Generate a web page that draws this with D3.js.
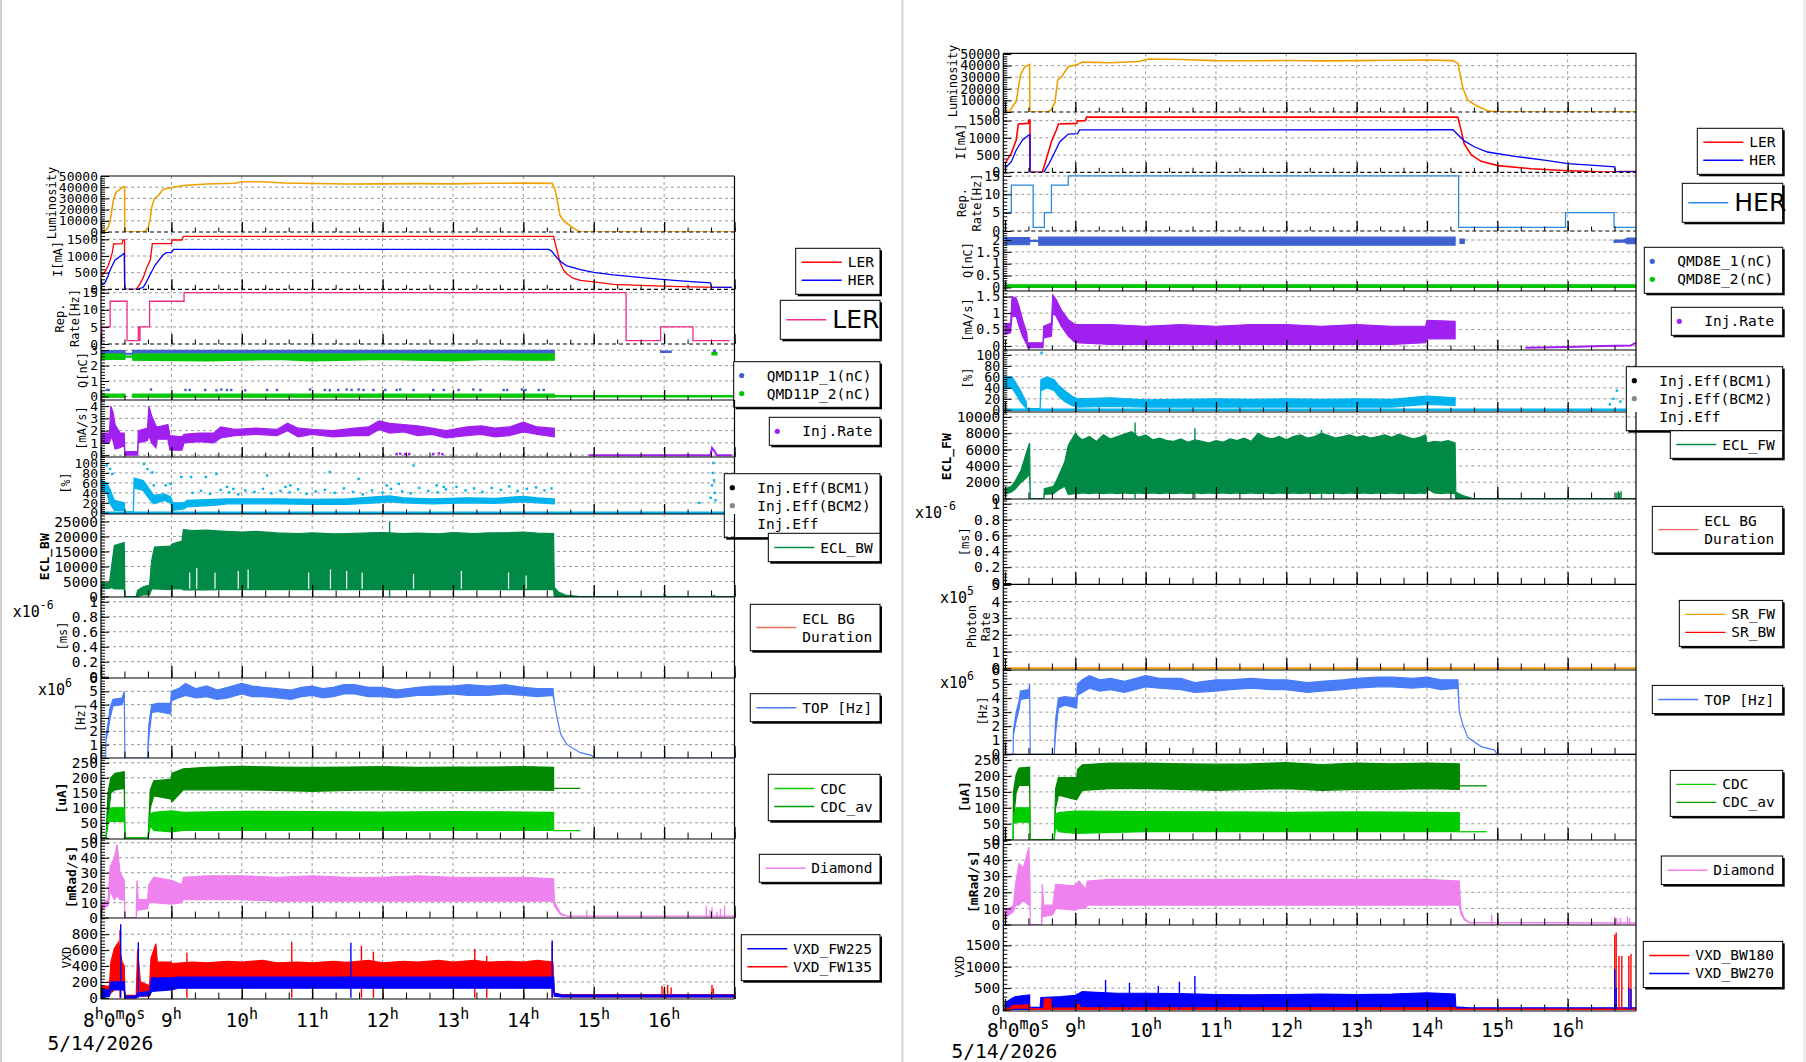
<!DOCTYPE html>
<html><head><meta charset="utf-8">
<script src="https://cdn.jsdelivr.net/npm/d3@7"></script>
<style>
body{margin:0;background:#fff}
svg{display:block}
text{font-family:"DejaVu Sans Mono",monospace;fill:#000}
</style></head>
<body><svg id="c" width="1806" height="1062"></svg>
<script>
// ===================== DATA (time in hours, 8.0 = 8:00) =====================
const hourLabels = ["8","9","10","11","12","13","14","15","16"];
const dateLabel = "5/14/2026";

// ---- tick label values ----
const lumTicks = [0,10000,20000,30000,40000,50000];
const curTicks = [0,500,1000,1500];
const repTicks = [0,5,10,15];
const qTicksL = [0,1,2,3];
const qTicksR = [0,0.5,1,1.5,2];
const injTicksL = [0,1,2,3,4];
const injTicksR = [0,0.5,1,1.5];
const effTicks = [0,20,40,60,80,100];
const eclBwTicks = [0,5000,10000,15000,20000,25000];
const eclFwTicks = [0,2000,4000,6000,8000,10000];
const durTicks = [0,0.2,0.4,0.6,0.8,1];
const photonTicks = [0,1,2,3,4,5];
const topTicks = [0,1,2,3,4,5,6];
const cdcTicks = [0,50,100,150,200,250];
const diaTicks = [0,10,20,30,40,50];
const vxdTicksL = [0,200,400,600,800];
const vxdTicksR = [0,500,1000,1500];

// ---- LEFT (LER) ----
const lumL = [[8.0,0],[8.05,600],[8.1,4000],[8.13,10000],[8.16,22000],[8.18,30000],[8.22,36000],[8.28,38500],[8.32,40500],[8.335,40500],[8.337,0],[8.58,0],[8.63,800],[8.67,4000],[8.70,12000],[8.72,22000],[8.76,30000],[8.82,33000],[8.88,38000],[8.95,39000],[9.0,39500],[9.17,41500],[9.5,42800],[9.9,43500],[10.0,44900],[10.3,44800],[10.6,43800],[11.0,43300],[11.5,42900],[12.0,43000],[12.5,43200],[13.0,43000],[13.5,43500],[14.0,43600],[14.41,43400],[14.45,38000],[14.48,29000],[14.52,15000],[14.57,10000],[14.62,7800],[14.72,3000],[14.81,0],[17.0,0]];
const lerL = [[8.0,380],[8.05,500],[8.1,700],[8.13,880],[8.16,1100],[8.18,1360],[8.30,1370],[8.31,1480],[8.335,1480],[8.337,0],[8.50,0],[8.55,150],[8.6,350],[8.65,650],[8.7,880],[8.73,1370],[9.0,1370],[9.01,1480],[9.15,1480],[9.17,1590],[14.43,1590],[14.45,1400],[14.477,1180],[14.525,780],[14.57,580],[14.62,460],[14.7,340],[14.81,270],[15.0,220],[15.28,145],[15.76,110],[16.23,80],[16.7,60],[16.96,55]];
const herL = [[8.0,130],[8.05,170],[8.1,400],[8.13,580],[8.2,880],[8.28,1000],[8.33,1080],[8.337,0],[8.52,0],[8.6,60],[8.63,160],[8.7,450],[8.77,730],[8.88,1030],[8.93,1100],[9.0,1100],[9.03,1200],[14.36,1200],[14.4,1150],[14.48,940],[14.55,800],[14.62,700],[14.81,590],[15.0,510],[15.28,430],[15.76,335],[16.23,255],[16.66,190],[16.67,65],[16.96,60]];
const repL = [[8.0,1],[8.01,5],[8.13,12.5],[8.37,1],[8.53,5],[8.55,1],[8.555,5],[8.69,12.5],[9.18,15],[15.46,1],[15.95,5],[16.41,1],[16.93,1]];
const qmd1L = [[8.0,2.84,2.98],[8.34,2.84,2.98],[8.341,2.74,2.79],[8.45,2.74,2.79],[8.451,2.84,2.99],[14.44,2.84,2.99],[14.441,null,null],[15.95,2.86,2.94],[16.1,2.86,2.94],[16.101,null,null],[16.7,2.9,3.0],[16.73,2.9,3.0]];
const qmd2L = [[8.0,2.4,2.82],[8.34,2.4,2.82],[8.341,2.55,2.62],[8.45,2.55,2.62],[8.451,2.35,2.8],[9.5,2.3,2.8],[10.0,2.35,2.8],[10.5,2.4,2.8],[11.0,2.3,2.8],[11.5,2.35,2.8],[12.0,2.4,2.8],[12.5,2.35,2.8],[13.0,2.3,2.8],[13.5,2.4,2.8],[14.0,2.35,2.8],[14.44,2.35,2.8],[14.441,null,null],[16.68,2.7,2.85],[16.75,2.7,2.85]];
const qmd2LowL = [[8.0,-0.05,0.15],[8.34,-0.05,0.15],[8.341,null,null],[8.45,-0.05,0.15],[14.44,-0.05,0.15],[14.45,-0.03,0.05],[16.97,-0.03,0.05]];
const qDotsL = [[8.08,0.42],[8.11,0.42],[8.71,0.45],[9.2,0.42],[9.26,0.42],[9.48,0.42],[9.64,0.4],[9.71,0.45],[9.79,0.42],[9.85,0.42],[10.05,0.4],[10.36,0.42],[10.5,0.42],[10.97,0.45],[11.18,0.42],[11.25,0.4],[11.37,0.42],[11.49,0.45],[11.56,0.42],[11.66,0.45],[11.73,0.42],[11.87,0.42],[12.04,0.42],[12.2,0.42],[12.25,0.45],[12.44,0.42],[12.72,0.42],[12.87,0.42],[13.08,0.42],[13.29,0.45],[13.39,0.42],[13.72,0.42],[13.77,0.42],[13.98,0.45],[14.03,0.42],[14.22,0.42],[14.29,0.42]];
const injL = [[8.0,1.0,1.8],[8.12,1.0,1.8],[8.14,1.5,4.0],[8.17,1.2,3.5],[8.2,0.5,2.5],[8.27,0.6,1.8],[8.33,0.8,1.8],[8.34,0,0.3],[8.52,0,0.3],[8.53,1.0,2.0],[8.66,1.2,2.2],[8.68,1.6,4.0],[8.72,1.0,3.2],[8.78,0.6,2.4],[8.8,1.3,2.3],[8.95,1.3,2.5],[8.98,0.4,1.6],[9.15,0.4,1.5],[9.18,1.0,1.7],[9.4,1.1,1.8],[9.6,1.0,1.8],[9.7,1.4,2.3],[9.9,1.6,2.1],[10.2,1.7,2.2],[10.5,1.6,2.1],[10.65,2.0,2.6],[10.8,1.5,2.2],[11.0,1.7,2.1],[11.3,1.5,2.0],[11.6,1.6,2.2],[11.8,1.6,2.3],[11.95,2.1,2.8],[12.1,1.8,2.6],[12.3,1.9,2.5],[12.5,1.6,2.4],[12.7,1.7,2.2],[12.9,1.4,2.0],[13.2,1.6,2.3],[13.4,1.7,2.4],[13.6,1.5,2.2],[13.8,1.6,2.3],[14.0,1.9,2.7],[14.2,1.7,2.3],[14.44,1.5,2.2]];
const injTailL = [[14.93,0],[16.66,0],[16.68,0.6],[16.72,0.3],[16.75,0],[16.96,0]];
const injDotsL = [[12.2,0.1],[12.25,0.12],[12.32,0.08],[12.38,0.1],[12.72,0.1],[12.8,0.15],[12.85,0.08]];
const effL = [[8.0,45,65],[8.08,40,60],[8.12,20,50],[8.19,5,25],[8.33,5,20],[8.34,0,2],[8.46,0,2],[8.47,50,70],[8.6,45,65],[8.7,25,45],[8.75,18,35],[8.9,25,38],[8.99,20,32],[9.02,5,20],[9.18,8,20],[9.22,12,25],[9.6,15,27],[9.8,18,28],[10.5,18,28],[11.0,17,27],[11.5,17,28],[11.9,20,32],[12.1,22,34],[12.3,20,30],[12.7,18,28],[13.2,20,30],[13.6,19,29],[14.0,22,33],[14.2,20,30],[14.44,18,28]];
const effBaseL = [[8.0,0],[16.97,0]];
const effDotsL = [[8.08,95],[8.13,88],[8.16,78],[8.61,98],[8.66,88],[8.73,81],[8.75,55],[8.92,55],[8.99,58],[9.14,72],[9.28,72],[9.49,72],[9.64,78],[9.79,52],[9.88,48],[10.36,75],[10.62,52],[10.69,55],[11.25,82],[11.66,68],[12.06,55],[12.23,58],[12.44,95],[12.77,55],[12.87,52],[9.3,40],[9.42,44],[9.55,38],[9.7,46],[9.82,41],[9.95,37],[10.05,45],[10.18,42],[10.3,48],[10.42,39],[10.55,44],[10.68,41],[10.8,47],[10.92,38],[11.05,43],[11.18,46],[11.32,40],[11.45,49],[11.58,42],[11.72,37],[11.85,45],[12.0,41],[12.12,48],[12.28,43],[12.4,39],[12.52,50],[12.65,44],[12.78,41],[12.9,47],[13.05,52],[13.18,45],[13.3,49],[13.42,42],[13.55,50],[13.68,46],[13.8,53],[13.92,44],[14.05,48],[14.18,51],[14.3,45],[14.4,49],[16.5,20],[16.66,30],[16.68,55],[16.69,80],[16.7,100],[16.71,65],[16.72,40],[16.73,25]];
const eclBwL = [[8.0,2700,4400],[8.12,2700,4500],[8.15,3000,10000],[8.19,2500,17000],[8.33,2500,18000],[8.34,0,0],[8.5,0,0],[8.52,0,2000],[8.6,500,3200],[8.69,500,3800],[8.72,2500,12000],[8.76,2500,16500],[8.99,2300,16800],[9.01,2500,17500],[9.15,2500,18500],[9.17,2200,22300],[9.3,2200,22000],[9.5,2200,22100],[9.7,2300,21800],[10.0,2300,21500],[10.2,2300,21700],[10.5,2300,21200],[10.8,2300,21000],[11.0,2300,21200],[11.3,2300,20900],[11.5,2300,21000],[11.8,2300,21200],[12.0,2300,21300],[12.3,2300,21000],[12.5,2300,21100],[12.8,2300,20900],[13.0,2300,21300],[13.3,2300,21000],[13.5,2300,21200],[13.8,2300,21300],[14.0,2300,21500],[14.2,2300,21100],[14.43,2300,21000],[14.44,0,3000],[14.5,0,1500],[14.6,0,500],[14.8,0,0],[17.0,0,0]];
const eclBwSpikesL = [[12.1,25000],[16.0,800],[16.02,600],[16.7,600],[16.72,400]];
const eclBwGapsL = [[9.26,8000],[9.36,9500],[9.62,8000],[9.95,8500],[10.09,9000],[10.95,8000],[11.26,9000],[11.49,8500],[11.71,8000],[12.44,7500],[13.12,8500],[13.79,8000],[14.04,7000]];
const eclDurL = [];
const topL = [[8.0,0,0],[8.065,0,0],[8.07,1.3,1.6],[8.1,2.0,2.6],[8.13,3.0,3.8],[8.17,3.9,4.4],[8.3,4.0,4.5],[8.33,4.6,5.0],[8.34,0,0],[8.66,0,0],[8.68,1.5,2.5],[8.72,3.4,4.0],[8.8,3.5,4.1],[8.99,3.3,4.1],[9.0,4.3,5.0],[9.1,4.5,5.2],[9.2,4.7,5.6],[9.35,4.5,5.2],[9.5,4.6,5.4],[9.65,4.4,5.1],[9.8,4.5,5.3],[10.0,4.8,5.6],[10.15,4.6,5.4],[10.3,4.6,5.3],[10.5,4.5,5.2],[10.7,4.4,5.1],[10.85,4.6,5.3],[11.0,4.7,5.4],[11.15,4.5,5.2],[11.3,4.6,5.3],[11.45,4.8,5.5],[11.6,4.8,5.5],[11.8,4.6,5.3],[12.0,4.6,5.3],[12.2,4.5,5.1],[12.5,4.7,5.3],[12.7,4.7,5.4],[13.0,4.8,5.4],[13.2,4.7,5.5],[13.5,4.7,5.4],[13.75,4.8,5.5],[14.0,4.7,5.3],[14.2,4.6,5.2],[14.42,4.7,5.2],[14.44,4.2,4.2],[14.48,3.0,3.0],[14.53,1.8,1.8],[14.62,1.0,1.0],[14.81,0.4,0.4],[14.97,0.2,0.2],[15.0,0,0],[17.0,0,0]];
const cdcAvL = [[8.0,0,0],[8.07,0,0],[8.1,60,150],[8.14,150,200],[8.2,160,215],[8.33,165,220],[8.34,0,0],[8.67,0,0],[8.7,100,160],[8.75,140,190],[8.99,130,195],[9.01,120,215],[9.17,160,230],[9.5,160,235],[10.0,160,238],[10.5,158,236],[11.0,155,235],[11.5,158,236],[12.0,160,237],[12.5,157,235],[13.0,158,236],[13.5,157,236],[14.0,160,237],[14.43,158,235]];
const cdcAvTailL = [[14.43,165],[14.81,165]];
const cdcL = [[8.0,0,0],[8.07,0,0],[8.1,50,70],[8.14,55,100],[8.33,55,100],[8.34,0,0],[8.67,0,0],[8.7,40,80],[8.75,25,85],[9.0,20,90],[9.17,25,85],[10.0,25,88],[11.0,25,87],[12.0,25,86],[13.0,25,87],[14.0,25,86],[14.43,25,85]];
const cdcTailL = [[14.43,24],[14.81,24]];
const diaL = [[8.0,3,7],[8.03,6,10],[8.1,8,12],[8.13,18,34],[8.19,12,40],[8.23,15,49],[8.27,12,30],[8.33,12,25],[8.34,0,0],[8.5,0,0],[8.51,5,25],[8.53,5,12],[8.66,6,12],[8.68,10,22],[8.75,10,27],[9.0,9,25],[9.15,10,22],[9.17,12,27],[9.5,12,28],[10.0,12,28],[10.5,11,27],[11.0,11,28],[11.5,11,27],[12.0,11,27],[12.5,11,28],[13.0,11,27],[13.5,11,27],[14.0,11,27],[14.43,11,26],[14.44,8,11],[14.48,5,7],[14.53,2,3],[14.62,1,1.3],[17.0,0.8,1.0]];
const diaSpikesL = [[14.9,5],[16.6,8],[16.65,5],[16.68,7],[16.75,4],[16.8,6],[16.86,8]];
const vxdRedL = [[8.0,40,140],[8.12,40,150],[8.14,60,450],[8.19,100,620],[8.25,120,700],[8.3,100,450],[8.33,100,400],[8.34,0,30],[8.5,0,30],[8.52,50,600],[8.56,20,200],[8.69,20,150],[8.71,80,500],[8.78,150,680],[8.8,150,450],[8.99,150,450],[9.01,170,430],[9.3,170,450],[9.5,170,440],[9.8,170,460],[10.0,170,450],[10.3,170,470],[10.5,170,440],[10.8,170,450],[11.0,170,440],[11.3,170,460],[11.5,170,445],[11.8,170,470],[12.0,170,440],[12.3,170,460],[12.5,170,450],[12.8,170,470],[13.0,170,450],[13.3,170,470],[13.5,170,450],[13.8,170,460],[14.0,170,450],[14.2,170,470],[14.42,170,450],[14.44,30,60],[14.55,10,40],[17.0,10,40]];
const vxdRedSpikesL = [[8.27,850],[9.22,567],[10.71,706],[11.7,655],[11.87,580],[13.31,615],[13.48,528],[14.41,696],[15.97,150],[16.0,120],[16.05,160],[16.1,130],[16.68,160],[16.7,120]];
const vxdBlueL = [[8.0,0,100],[8.12,20,100],[8.14,100,200],[8.33,100,200],[8.34,0,20],[8.5,0,20],[8.52,20,60],[8.69,30,80],[8.72,80,250],[9.0,100,250],[9.1,120,260],[10.0,120,260],[11.0,120,260],[12.0,120,260],[13.0,120,260],[14.0,120,260],[14.43,120,260],[14.44,20,60],[14.55,10,35],[17.0,10,35]];
const vxdBlueSpikesL = [[8.28,925],[8.53,700],[11.55,693],[14.41,720]];

// ---- RIGHT (HER) ----
const lumR = [[8.0,0],[8.07,800],[8.12,6000],[8.16,9200],[8.19,20600],[8.22,32000],[8.28,39000],[8.35,41000],[8.355,0],[8.61,0],[8.66,2000],[8.71,8000],[8.75,27700],[8.8,30000],[8.9,39000],[9.03,41000],[9.1,43000],[9.5,42500],[9.9,43500],[10.04,45700],[10.5,45300],[11.0,44300],[11.5,44200],[12.0,44400],[12.5,44100],[13.0,44300],[13.5,44600],[14.0,44800],[14.37,44300],[14.44,42000],[14.51,20700],[14.58,10100],[14.72,4900],[14.86,1100],[15.01,0],[17.0,0]];
const lerR = [[8.0,260],[8.09,550],[8.16,937],[8.19,1400],[8.33,1420],[8.34,1517],[8.355,1517],[8.357,0],[8.53,0],[8.57,261],[8.66,888],[8.73,1228],[8.76,1402],[9.02,1420],[9.03,1490],[9.14,1500],[9.16,1600],[14.43,1600],[14.44,1594],[14.49,1181],[14.53,821],[14.63,502],[14.77,319],[15.01,194],[15.48,104],[15.95,52],[16.43,15],[16.67,10],[16.75,20],[16.99,20]];
const herR = [[8.0,116],[8.09,308],[8.16,647],[8.25,937],[8.34,1082],[8.355,1082],[8.357,0],[8.55,0],[8.63,261],[8.7,551],[8.78,888],[8.9,1111],[9.03,1120],[9.06,1230],[14.37,1236],[14.44,1091],[14.53,911],[14.68,734],[14.86,589],[15.25,464],[15.72,339],[16.0,249],[16.43,194],[16.67,160],[16.68,15],[16.99,15]];
const repR = [[8.0,5],[8.09,12.5],[8.4,1],[8.56,5],[8.66,12.5],[8.9,15],[14.45,1],[15.97,5],[16.66,1],[17.0,1]];
const qmd1R = [[8.0,1.8,2.1],[8.35,1.8,2.1],[8.351,1.94,1.99],[8.48,1.94,1.99],[8.481,1.78,2.12],[14.4,1.78,2.12],[14.401,null,null],[14.47,1.86,2.04],[14.53,1.86,2.04],[14.531,null,null],[16.66,1.9,2.0],[16.8,1.92,2.0],[16.85,1.85,2.08],[16.97,1.85,2.08]];
const qmd2R = [[8.0,0.0,0.11],[16.97,0.0,0.11]];
const injR = [[8.0,0.35,0.65],[8.08,0.4,0.7],[8.1,0.9,1.5],[8.16,0.9,1.45],[8.2,0.6,1.2],[8.25,0.3,0.8],[8.31,0.05,0.4],[8.32,-0.05,0.1],[8.54,-0.05,0.1],[8.55,0.25,0.6],[8.66,0.3,0.7],[8.68,1.0,1.55],[8.73,0.9,1.4],[8.8,0.6,1.1],[8.9,0.3,0.8],[9.0,0.1,0.65],[9.5,0.05,0.65],[10.0,0.05,0.6],[10.5,0.05,0.65],[11.0,0.05,0.6],[11.5,0.05,0.65],[12.0,0.05,0.65],[12.5,0.05,0.6],[13.0,0.05,0.65],[13.5,0.05,0.6],[13.98,0.1,0.6],[14.0,0.22,0.78],[14.4,0.22,0.75]];
const injTailR = [[15.4,-0.05],[16.0,-0.03],[16.5,0],[16.9,0.02],[16.95,0.08],[17.0,0.1]];
const effR = [[8.0,38,60],[8.1,40,60],[8.15,30,50],[8.22,15,35],[8.3,3,15],[8.31,0,2],[8.5,0,2],[8.51,35,55],[8.6,40,60],[8.7,35,55],[8.76,25,45],[8.85,15,35],[8.95,8,25],[9.03,5,20],[9.5,6,22],[10.0,5,18],[10.5,5,19],[11.0,5,20],[11.5,5,19],[12.0,5,20],[12.5,5,19],[13.0,5,20],[13.5,5,19],[14.0,10,25],[14.4,8,22]];
const effBaseR = [[8.0,0],[16.97,0]];
const effDotsR = [[8.52,104],[16.6,10],[16.65,20],[16.7,35],[16.75,15],[16.85,40],[16.9,60],[16.92,45],[16.95,30],[16.97,50]];
const eclFwR = [[8.0,500,1200],[8.09,800,1500],[8.15,1200,2200],[8.23,2000,3500],[8.3,2500,5500],[8.35,3000,6800],[8.36,0,0],[8.55,0,0],[8.56,500,1200],[8.69,600,1500],[8.75,1000,2500],[8.85,1500,4500],[8.9,500,6500],[9.0,600,8000],[9.05,600,7500],[9.1,700,7200],[9.2,600,7600],[9.3,700,7000],[9.4,600,7800],[9.5,700,7300],[9.6,600,7600],[9.7,700,7900],[9.8,600,8200],[9.9,700,7500],[10.0,600,7800],[10.1,700,7200],[10.2,600,7400],[10.3,700,7100],[10.4,600,7000],[10.5,700,7300],[10.6,600,6900],[10.7,700,7200],[10.8,600,7000],[10.9,700,6800],[11.0,600,7100],[11.1,700,6900],[11.2,600,7300],[11.3,700,7100],[11.4,600,7400],[11.5,700,7000],[11.6,600,8000],[11.7,700,7500],[11.8,600,7300],[11.9,700,7600],[12.0,600,7200],[12.1,700,7600],[12.2,600,7800],[12.3,700,7400],[12.4,600,7600],[12.5,700,8000],[12.6,600,7700],[12.7,700,7400],[12.8,600,7600],[12.9,700,7800],[13.0,600,7500],[13.1,700,7700],[13.2,600,7400],[13.3,700,7600],[13.4,600,7800],[13.5,700,7500],[13.6,600,7900],[13.7,700,7600],[13.8,600,7300],[13.9,700,7500],[13.98,600,7800],[14.0,1200,6800],[14.1,700,7000],[14.2,600,6900],[14.3,700,7100],[14.4,600,6800],[14.41,0,800],[14.5,0,400],[14.65,0,0],[17.0,0,0]];
const eclFwSpikesR = [[9.85,9300],[10.7,8600],[12.5,8400],[16.7,700],[16.72,900],[16.74,700],[16.76,900]];
const eclDurR = [];
const srFwR = [[7.976,0],[16.972,0]];
const srBwR = [[7.976,0],[16.972,0]];
const topR = [[8.0,0,0],[8.115,0,0],[8.12,1.4,1.7],[8.16,2.4,3.0],[8.2,3.2,3.8],[8.22,3.9,4.5],[8.34,4.0,4.6],[8.35,4.6,5.0],[8.36,0,0],[8.7,0,0],[8.72,1.5,2.5],[8.76,3.3,4.0],[8.85,3.5,4.1],[9.02,3.3,4.0],[9.03,4.2,5.0],[9.1,4.4,5.3],[9.2,4.7,5.6],[9.35,4.5,5.3],[9.5,4.6,5.4],[9.7,4.4,5.2],[10.0,4.8,5.6],[10.2,4.7,5.4],[10.5,4.6,5.4],[10.7,4.4,5.1],[11.0,4.5,5.3],[11.2,4.6,5.3],[11.5,4.7,5.4],[11.8,4.6,5.3],[12.0,4.6,5.3],[12.3,4.4,5.1],[12.5,4.5,5.2],[12.8,4.6,5.3],[13.0,4.7,5.4],[13.3,4.8,5.5],[13.5,4.8,5.5],[13.8,4.7,5.4],[14.0,4.8,5.5],[14.2,4.6,5.3],[14.44,4.7,5.3],[14.46,3.0,3.0],[14.51,2.1,2.1],[14.58,1.2,1.2],[14.77,0.55,0.55],[14.96,0.3,0.3],[15.0,0,0],[17.0,0,0]];
const cdcAvR = [[8.0,0,0],[8.115,0,0],[8.12,60,150],[8.16,150,205],[8.2,170,225],[8.35,170,228],[8.36,0,0],[8.7,0,0],[8.72,100,160],[8.76,140,195],[9.02,125,195],[9.03,130,220],[9.1,155,235],[9.5,160,240],[10.0,160,240],[10.5,158,238],[11.0,155,237],[11.5,158,238],[12.0,160,242],[12.5,155,236],[13.0,158,240],[13.5,158,238],[14.0,160,240],[14.46,158,238]];
const cdcAvTailR = [[14.46,169],[14.85,169]];
const cdcR = [[8.0,0,0],[8.115,0,0],[8.12,50,70],[8.16,55,100],[8.35,55,100],[8.36,0,0],[8.7,0,0],[8.72,40,80],[8.76,25,85],[9.0,20,90],[10.0,25,88],[11.0,25,87],[12.0,25,86],[13.0,25,87],[14.0,25,86],[14.46,25,85]];
const cdcTailR = [[14.46,25],[14.85,25]];
const diaR = [[8.0,4,9],[8.06,6,10],[8.12,8,12],[8.15,12,25],[8.2,12,38],[8.26,15,35],[8.34,12,48],[8.355,12,25],[8.36,0,0],[8.52,0,0],[8.53,5,25],[8.55,5,12],[8.68,6,12],[8.72,10,25],[9.0,9,24],[9.05,10,27],[9.15,10,22],[9.17,12,27],[9.5,12,28],[10.0,12,28],[10.5,12,28],[11.0,12,28],[11.5,12,28],[12.0,12,28],[12.5,12,28],[13.0,12,28],[13.5,12,28],[14.0,12,28],[14.46,12,27],[14.48,7,9],[14.53,3,4],[14.6,1,1.3],[17.0,0.8,1.0]];
const diaSpikesR = [[14.92,6],[16.67,5],[16.7,4],[16.75,4],[16.85,5],[16.88,4]];
const vxdBlueR = [[8.0,0,150],[8.09,0,250],[8.15,0,300],[8.35,0,340],[8.351,0,50],[8.5,0,50],[8.51,0,280],[8.8,0,300],[9.0,0,330],[9.1,0,420],[9.3,0,400],[9.6,0,380],[10.0,0,380],[10.5,0,370],[11.0,0,350],[11.5,0,345],[12.0,0,350],[12.5,0,360],[13.0,0,350],[13.5,0,360],[14.0,0,390],[14.4,0,360],[14.41,0,60],[14.6,0,40],[16.97,0,40]];
const vxdBlueSpikesR = [[9.43,690],[9.77,626],[10.18,549],[10.48,650],[10.7,783],[16.67,934],[16.69,500],[16.87,500],[16.9,480]];
const vxdRedR = [[8.0,0,20],[8.09,0,40],[8.1,30,90],[8.35,40,110],[8.351,0,15],[8.55,0,15],[8.56,0,250],[8.65,0,250],[8.66,0,30],[9.02,0,30],[9.03,0,110],[9.06,0,110],[9.07,0,40],[14.4,0,40],[14.41,0,10],[16.97,0,10]];
const vxdRedSpikesR = [[16.67,1750],[16.69,1800],[16.73,1250],[16.77,1250],[16.87,1250],[16.9,1300]];

// ===================== STYLE / LAYOUT =====================
const C = {lum:"#f0a000",ler:"#ff0000",her:"#0000ff",repL:"#ee2a8a",repR:"#2a88e0",q1:"#4060d0",q2:"#00c800",
  inj:"#a020f0",eff:"#00b2ee",ecl:"#008a45",dur:"#f26b5b",top:"#4a7cf7",cdc:"#00cc00",cdcAv:"#008800",
  cdcLeg:"#00cc00",cdcAvLeg:"#009900",dia:"#ee82ee",vb:"#0000ff",vr:"#ff0000",sr:"#f0a000"};

const svg = d3.select("#c");
const defs = svg.append("defs");
svg.append("rect").attr("width",1806).attr("height",1062).attr("fill","#fff");
[[1,"#cfcfcf"],[902.5,"#d6d6d6"],[1804.5,"#e4e4e4"]].forEach(([xx,col])=>
  svg.append("line").attr("x1",xx).attr("x2",xx).attr("y1",0).attr("y2",1062).attr("stroke",col).attr("stroke-width",2));

function drawSeries(g,s,x,y){
  if(s.type==="line"||s.type==="step"){
    const ln=d3.line().defined(d=>d[1]!==null).x(d=>x(d[0])).y(d=>y(d[1]))
      .curve(s.type==="step"?d3.curveStepAfter:d3.curveLinear);
    g.append("path").attr("d",ln(s.data)).attr("fill","none").attr("stroke",s.color).attr("stroke-width",s.w||1.3);
  } else if(s.type==="band"){
    const ar=d3.area().defined(d=>d[1]!==null).x(d=>x(d[0])).y0(d=>y(d[1])).y1(d=>y(d[2]));
    g.append("path").attr("d",ar(s.data)).attr("fill",s.color).attr("stroke",s.color).attr("stroke-width",1.2);
  } else if(s.type==="dots"){
    g.selectAll(null).data(s.data).join("rect").attr("x",d=>x(d[0])-1.2).attr("y",d=>y(d[1])-1.2)
      .attr("width",2.4).attr("height",2.4).attr("fill",s.color);
  } else if(s.type==="spikes"){
    g.selectAll(null).data(s.data).join("line").attr("x1",d=>x(d[0])).attr("x2",d=>x(d[0]))
      .attr("y1",y(s.base||0)).attr("y2",d=>y(d[1])).attr("stroke",s.color).attr("stroke-width",s.w||1.4);
  }
}

function drawLegend(L){
  const [x0,y0,x1,y1]=L.box;
  const g=svg.append("g");
  g.append("rect").attr("x",x0+2).attr("y",y0+2).attr("width",x1-x0).attr("height",y1-y0).attr("fill","#000");
  g.append("rect").attr("x",x0).attr("y",y0).attr("width",x1-x0).attr("height",y1-y0).attr("fill","#fff").attr("stroke","#000").attr("stroke-width",1);
  const n=L.entries.reduce((a,e)=>a+(Array.isArray(e.t)?e.t.length:1),0);
  const mid=(y0+y1)/2, step=18;
  let row=0;
  L.entries.forEach(e=>{
    const lines=Array.isArray(e.t)?e.t:[e.t];
    const cy0=mid+(row-(n-1)/2)*step;
    const cyS=cy0+(lines.length-1)*step/2;
    if(e.k==="line") g.append("line").attr("x1",x0+6).attr("x2",x0+46).attr("y1",cyS).attr("y2",cyS).attr("stroke",e.c).attr("stroke-width",1.4);
    if(e.k==="dot") g.append("circle").attr("cx",x0+8).attr("cy",cyS).attr("r",2.6).attr("fill",e.c);
    const tx = e.k==="dot"||e.k==="none" ? x0+33 : x0+52;
    lines.forEach((t,j)=>{
      g.append("text").attr("x",tx).attr("y",cy0+j*step).attr("dominant-baseline","central")
        .style("font-family",L.big?"'DejaVu Sans',sans-serif":"'DejaVu Sans Mono',monospace")
        .attr("font-size",L.big?25:14.5).text(t);
    });
    row+=lines.length;
  });
}

function drawColumn(col){
  const x=d3.scaleLinear().domain(col.dom).range([col.x0,col.x1]);
  const hours=d3.range(8,17.001,1).filter(h=>h>=col.dom[0]-1e-6&&h<=col.dom[1]+1e-6);
  const minors=d3.range(8,17.001,1/3).filter(h=>h>=col.dom[0]&&h<=col.dom[1]);
  const gridH=d3.range(9,17,1);
  col.panels.forEach((p,i)=>{
    const y=d3.scaleLinear().domain(p.dom).range([p.y1,p.y0]);
    const g=svg.append("g");
    const cid=`clip-${col.id}-${i}`;
    defs.append("clipPath").attr("id",cid).append("rect").attr("x",col.x0).attr("y",p.y0)
      .attr("width",col.x1-col.x0).attr("height",p.y1-p.y0);
    g.selectAll(null).data(gridH).join("line").attr("x1",d=>x(d)).attr("x2",d=>x(d)).attr("y1",p.y0).attr("y2",p.y1)
      .attr("stroke","#9a9a9a").attr("stroke-dasharray","3,3").attr("stroke-width",1);
    g.selectAll(null).data(p.ticks.filter(v=>y(v)>p.y0+1.5&&y(v)<p.y1-1.5)).join("line")
      .attr("x1",col.x0).attr("x2",col.x1).attr("y1",d=>y(d)).attr("y2",d=>y(d))
      .attr("stroke","#9a9a9a").attr("stroke-dasharray","3,3").attr("stroke-width",1);
    const dg=g.append("g").attr("clip-path",`url(#${cid})`);
    p.series.forEach(s=>drawSeries(dg,s,x,y));
    const tall=(p.y1-p.y0)>70;
    const step=p.ticks[1]-p.ticks[0];
    const minorY=d3.range(Math.ceil(p.dom[0]/(step/5))*(step/5),p.dom[1]+1e-9,step/5);
    g.append("g").attr("transform",`translate(${col.x0},0)`)
      .call(d3.axisLeft(y).tickValues(minorY).tickSize(-4).tickFormat(""))
      .call(a=>a.select(".domain").remove()).selectAll("line").attr("stroke","#000");
    const ya=g.append("g").attr("transform",`translate(${col.x0},0)`)
      .call(d3.axisLeft(y).tickValues(p.ticks).tickSize(-8).tickPadding(3).tickFormat(d3.format("~g")))
      .call(a=>a.select(".domain").remove());
    ya.attr("font-family",null).attr("font-size",null);
    ya.selectAll("line").attr("stroke","#000");
    ya.selectAll("text").attr("font-size",p.fs).style("font-family","'DejaVu Sans Mono',monospace").attr("fill","#000");
    const mt=tall?12:10, nt=tall?6.5:4.5;
    g.append("g").attr("transform",`translate(0,${p.y1})`)
      .call(d3.axisBottom(x).tickValues(minors).tickSize(-nt).tickFormat(""))
      .call(a=>a.select(".domain").remove()).selectAll("line").attr("stroke","#000");
    g.append("g").attr("transform",`translate(0,${p.y1})`)
      .call(d3.axisBottom(x).tickValues(hours).tickSize(-mt).tickFormat(""))
      .call(a=>a.select(".domain").remove()).selectAll("line").attr("stroke","#000").attr("stroke-width",1.3);
    const fr=g.append("g").attr("stroke","#000").attr("stroke-width",1.2);
    if(i===0) fr.append("line").attr("x1",col.x0).attr("x2",col.x1).attr("y1",p.y0).attr("y2",p.y0);
    fr.append("line").attr("x1",col.x0).attr("x2",col.x0).attr("y1",p.y0).attr("y2",p.y1);
    fr.append("line").attr("x1",col.x1).attr("x2",col.x1).attr("y1",p.y0).attr("y2",p.y1);
    const bl=fr.append("line").attr("x1",col.x0).attr("x2",col.x1).attr("y1",p.y1).attr("y2",p.y1);
    if(i<3) bl.attr("stroke-dasharray","4,3");
    p.title.lines.forEach((t,j)=>{
      g.append("text").attr("transform",`translate(${p.title.x[j]},${p.title.yc}) rotate(-90)`)
        .attr("text-anchor","middle").attr("dominant-baseline","central")
        .attr("font-size",p.title.fs).attr("font-weight",p.title.bold?"bold":"normal").text(t);
    });
    if(p.mult){
      const t=g.append("text").attr("x",p.mult.x).attr("y",p.mult.y).attr("dominant-baseline","central").attr("font-size",15);
      t.append("tspan").text("x10");
      t.append("tspan").attr("dy",-7).attr("font-size",11.5).text(p.mult.e);
    }
    if(col.legends[i]) drawLegend(col.legends[i]);
  });
  hourLabels.forEach((lab,k)=>{
    const h=8+k;
    if(k===0){
      const t=svg.append("text").attr("x",x(h)-18).attr("y",col.tb).attr("font-size",19.5);
      [["8",0],["h",1],["0",0],["m",1],["0",0],["s",1]].forEach(([s,sup],j)=>{
        const ts=t.append("tspan").text(s);
        if(sup){ts.attr("font-size",15).attr("dy",-8);} else if(j>0){ts.attr("dy",8);}
      });
    } else {
      const t=svg.append("text").attr("x",x(h)).attr("y",col.tb).attr("font-size",19.5).attr("text-anchor","middle");
      t.append("tspan").text(lab);
      t.append("tspan").attr("font-size",15).attr("dy",-8).text("h");
    }
  });
  svg.append("text").attr("x",col.dateX).attr("y",col.db).attr("font-size",19.5).text(dateLabel);
}

const S=(type,data,color,extra)=>Object.assign({type,data,color},extra||{});

const left={id:"L",x0:101,x1:734.5,dom:[8,17],tb:1026.5,db:1050,dateX:47.5,
 panels:[
  {y0:176,y1:232,dom:[0,50000],ticks:lumTicks,fs:13,title:{lines:["Luminosity"],x:[51.7],yc:203,fs:12},series:[S("line",lumL,C.lum,{w:1.6})]},
  {y0:232,y1:289.3,dom:[0,1720],ticks:curTicks,fs:13,title:{lines:["I[mA]"],x:[58.3],yc:259,fs:12},series:[S("line",lerL,C.ler),S("line",herL,C.her)]},
  {y0:289.3,y1:344,dom:[0,16],ticks:repTicks,fs:13,title:{lines:["Rep.","Rate[Hz]"],x:[60,75],yc:318,fs:12},series:[S("step",repL,C.repL)]},
  {y0:344,y1:400,dom:[-0.23,3.4],ticks:qTicksL,fs:13,title:{lines:["Q[nC]"],x:[83.3],yc:370,fs:12},series:[S("band",qmd2L,C.q2),S("band",qmd1L,C.q1),S("band",qmd2LowL,C.q2),S("dots",qDotsL,C.q1)]},
  {y0:400,y1:457,dom:[-0.15,4.5],ticks:injTicksL,fs:13,title:{lines:["[mA/s]"],x:[81.7],yc:428,fs:12},series:[S("band",injL,C.inj),S("line",injTailL,C.inj,{w:2}),S("dots",injDotsL,C.inj)]},
  {y0:457,y1:514,dom:[-2.4,112],ticks:effTicks,fs:13,title:{lines:["[%]"],x:[66],yc:483,fs:11.5},series:[S("line",effBaseL,C.eff,{w:2.5}),S("band",effL,C.eff),S("dots",effDotsL,C.eff)]},
  {y0:514,y1:597,dom:[-170,27500],ticks:eclBwTicks,fs:14.5,title:{lines:["ECL_BW"],x:[44.3],yc:556.7,fs:13,bold:true},series:[S("band",eclBwL,C.ecl),S("spikes",eclBwGapsL,"#fff",{base:2600,w:1.2}),S("spikes",eclBwSpikesL,C.ecl)]},
  {y0:597,y1:678,dom:[-0.017,1.063],ticks:durTicks,fs:14.5,title:{lines:["[ms]"],x:[63.3],yc:636,fs:12},mult:{x:12.7,y:611.7,e:"-6"},series:[S("line",eclDurL,C.dur)]},
  {y0:678,y1:758,dom:[0,6],ticks:topTicks,fs:14.5,title:{lines:["[Hz]"],x:[81],yc:717.5,fs:12},mult:{x:38,y:690,e:"6"},series:[S("band",topL,C.top)]},
  {y0:758,y1:839,dom:[-4,266],ticks:cdcTicks,fs:14.5,title:{lines:["[uA]"],x:[61.7],yc:798,fs:13,bold:true},series:[S("band",cdcAvL,C.cdcAv),S("line",cdcAvTailL,C.cdcAv),S("band",cdcL,C.cdc),S("line",cdcTailL,C.cdc)]},
  {y0:839,y1:918,dom:[-0.2,52.5],ticks:diaTicks,fs:14.5,title:{lines:["[mRad/s]"],x:[71],yc:877,fs:13,bold:true},series:[S("band",diaL,C.dia),S("spikes",diaSpikesL,C.dia)]},
  {y0:918,y1:999,dom:[-15,1004],ticks:vxdTicksL,fs:14.5,title:{lines:["VXD"],x:[66.7],yc:957.5,fs:12},series:[S("band",vxdRedL,C.vr),S("spikes",vxdRedSpikesL,C.vr),S("band",vxdBlueL,C.vb),S("spikes",vxdBlueSpikesL,C.vb)]}
 ],
 legends:{
  1:{box:[795.7,248.3,880,294.3],entries:[{t:"LER",c:C.ler,k:"line"},{t:"HER",c:C.her,k:"line"}]},
  2:{box:[780.3,300.3,880,339.3],big:true,entries:[{t:"LER",c:C.repL,k:"line"}]},
  3:{box:[733.7,361.7,880,407.3],entries:[{t:"QMD11P_1(nC)",c:C.q1,k:"dot"},{t:"QMD11P_2(nC)",c:C.q2,k:"dot"}]},
  4:{box:[769.3,417.3,880,445.3],entries:[{t:"Inj.Rate",c:C.inj,k:"dot"}]},
  5:{box:[724.3,473.7,880,537.7],entries:[{t:"Inj.Eff(BCM1)",c:"#000",k:"dot"},{t:"Inj.Eff(BCM2)",c:"#888",k:"dot"},{t:"Inj.Eff",c:null,k:"none"}]},
  6:{box:[768.3,533.3,880,561.7],entries:[{t:"ECL_BW",c:C.ecl,k:"line"}]},
  7:{box:[750.3,604.3,880,650.7],entries:[{t:["ECL BG","Duration"],c:C.dur,k:"line"}]},
  8:{box:[750.3,693.7,880,721.7],entries:[{t:"TOP [Hz]",c:C.top,k:"line"}]},
  9:{box:[768.3,774.3,880,820.7],entries:[{t:"CDC",c:C.cdcLeg,k:"line"},{t:"CDC_av",c:C.cdcAvLeg,k:"line"}]},
  10:{box:[759.3,854.3,880,882.3],entries:[{t:"Diamond",c:C.dia,k:"line"}]},
  11:{box:[741.3,934.7,880,980.7],entries:[{t:"VXD_FW225",c:C.vb,k:"line"},{t:"VXD_FW135",c:C.vr,k:"line"}]}
 }};

const right={id:"R",x0:1003.3,x1:1636,dom:[7.976,16.972],tb:1036.5,db:1058,dateX:951.5,
 panels:[
  {y0:53.3,y1:112,dom:[0,50600],ticks:lumTicks,fs:13.3,title:{lines:["Luminosity"],x:[952.7],yc:81,fs:12},series:[S("line",lumR,C.lum,{w:1.6})]},
  {y0:112,y1:172.3,dom:[0,1750],ticks:curTicks,fs:13.3,title:{lines:["I[mA]"],x:[961],yc:141.7,fs:12},series:[S("line",lerR,C.ler,{w:1.6}),S("line",herR,C.her)]},
  {y0:172.3,y1:231,dom:[0,16],ticks:repTicks,fs:13.3,title:{lines:["Rep.","Rate[Hz]"],x:[961.7,976.7],yc:202.5,fs:12},series:[S("step",repR,C.repR)]},
  {y0:231,y1:291,dom:[-0.15,2.38],ticks:qTicksR,fs:13.3,title:{lines:["Q[nC]"],x:[968.3],yc:260,fs:12},series:[S("band",qmd1R,C.q1),S("band",qmd2R,C.q2)]},
  {y0:291,y1:350,dom:[-0.12,1.67],ticks:injTicksR,fs:13.3,title:{lines:["[mA/s]"],x:[967.5],yc:320,fs:12},series:[S("band",injR,C.inj),S("line",injTailR,C.inj,{w:2})]},
  {y0:350,y1:412,dom:[-4,109],ticks:effTicks,fs:13.3,title:{lines:["[%]"],x:[968.3],yc:378,fs:11.5},series:[S("line",effBaseR,C.eff,{w:2.5}),S("band",effR,C.eff),S("dots",effDotsR,C.eff)]},
  {y0:412,y1:499,dom:[-60,10600],ticks:eclFwTicks,fs:14.5,title:{lines:["ECL_FW"],x:[946.7],yc:456.7,fs:13,bold:true},series:[S("band",eclFwR,C.ecl),S("spikes",eclFwSpikesR,C.ecl)]},
  {y0:499,y1:584.3,dom:[-0.016,1.06],ticks:durTicks,fs:14.5,title:{lines:["[ms]"],x:[965],yc:541.7,fs:12},mult:{x:915,y:512.7,e:"-6"},series:[S("line",eclDurR,C.dur)]},
  {y0:584.3,y1:670,dom:[-0.1,5.03],ticks:photonTicks,fs:14.5,title:{lines:["Photon","Rate"],x:[971.7,986],yc:626.7,fs:12},mult:{x:940,y:598.3,e:"5"},series:[S("line",srBwR,C.ler),S("line",srFwR,C.sr,{w:1.6})]},
  {y0:670,y1:754.3,dom:[0,6],ticks:topTicks,fs:14.5,title:{lines:["[Hz]"],x:[983.3],yc:711,fs:12},mult:{x:940,y:683.3,e:"6"},series:[S("band",topR,C.top)]},
  {y0:754.3,y1:840,dom:[-1,268],ticks:cdcTicks,fs:14.5,title:{lines:["[uA]"],x:[964],yc:796.7,fs:13,bold:true},series:[S("band",cdcAvR,C.cdcAv),S("line",cdcAvTailR,C.cdcAv),S("band",cdcR,C.cdc),S("line",cdcTailR,C.cdc)]},
  {y0:840,y1:925,dom:[-0.3,52.5],ticks:diaTicks,fs:14.5,title:{lines:["[mRad/s]"],x:[973.3],yc:881.7,fs:13,bold:true},series:[S("band",diaR,C.dia),S("spikes",diaSpikesR,C.dia)]},
  {y0:925,y1:1011,dom:[-35,1975],ticks:vxdTicksR,fs:14.5,title:{lines:["VXD"],x:[960],yc:966.7,fs:12},series:[S("band",vxdBlueR,C.vb),S("band",vxdRedR,C.vr),S("spikes",vxdRedSpikesR,C.vr),S("spikes",vxdBlueSpikesR,C.vb)]}
 ],
 legends:{
  1:{box:[1697.3,128.3,1782.7,174.3],entries:[{t:"LER",c:C.ler,k:"line"},{t:"HER",c:C.her,k:"line"}]},
  2:{box:[1682.3,183.3,1782.7,222.3],big:true,entries:[{t:"HER",c:C.repR,k:"line"}]},
  3:{box:[1644.3,247.3,1782.7,293.3],entries:[{t:"QMD8E_1(nC)",c:C.q1,k:"dot"},{t:"QMD8E_2(nC)",c:C.q2,k:"dot"}]},
  4:{box:[1671.3,307.3,1782.7,335.3],entries:[{t:"Inj.Rate",c:C.inj,k:"dot"}]},
  5:{box:[1626.3,366.7,1782.7,430.7],entries:[{t:"Inj.Eff(BCM1)",c:"#000",k:"dot"},{t:"Inj.Eff(BCM2)",c:"#888",k:"dot"},{t:"Inj.Eff",c:null,k:"none"}]},
  6:{box:[1670.3,430.7,1782.7,458.3],entries:[{t:"ECL_FW",c:C.ecl,k:"line"}]},
  7:{box:[1652.3,506.4,1782.7,552.9],entries:[{t:["ECL BG","Duration"],c:C.dur,k:"line"}]},
  8:{box:[1679.3,600.4,1782.7,646.4],entries:[{t:"SR_FW",c:C.sr,k:"line"},{t:"SR_BW",c:C.ler,k:"line"}]},
  9:{box:[1652.3,685.4,1782.7,713.6],entries:[{t:"TOP [Hz]",c:C.top,k:"line"}]},
  10:{box:[1670.3,770.4,1782.7,816.4],entries:[{t:"CDC",c:C.cdcLeg,k:"line"},{t:"CDC_av",c:C.cdcAvLeg,k:"line"}]},
  11:{box:[1661.3,856,1782.7,884.6],entries:[{t:"Diamond",c:C.dia,k:"line"}]},
  12:{box:[1643.3,941.4,1782.7,987.5],entries:[{t:"VXD_BW180",c:C.vr,k:"line"},{t:"VXD_BW270",c:C.vb,k:"line"}]}
 }};

drawColumn(left);
drawColumn(right);
</script>
</body></html>
